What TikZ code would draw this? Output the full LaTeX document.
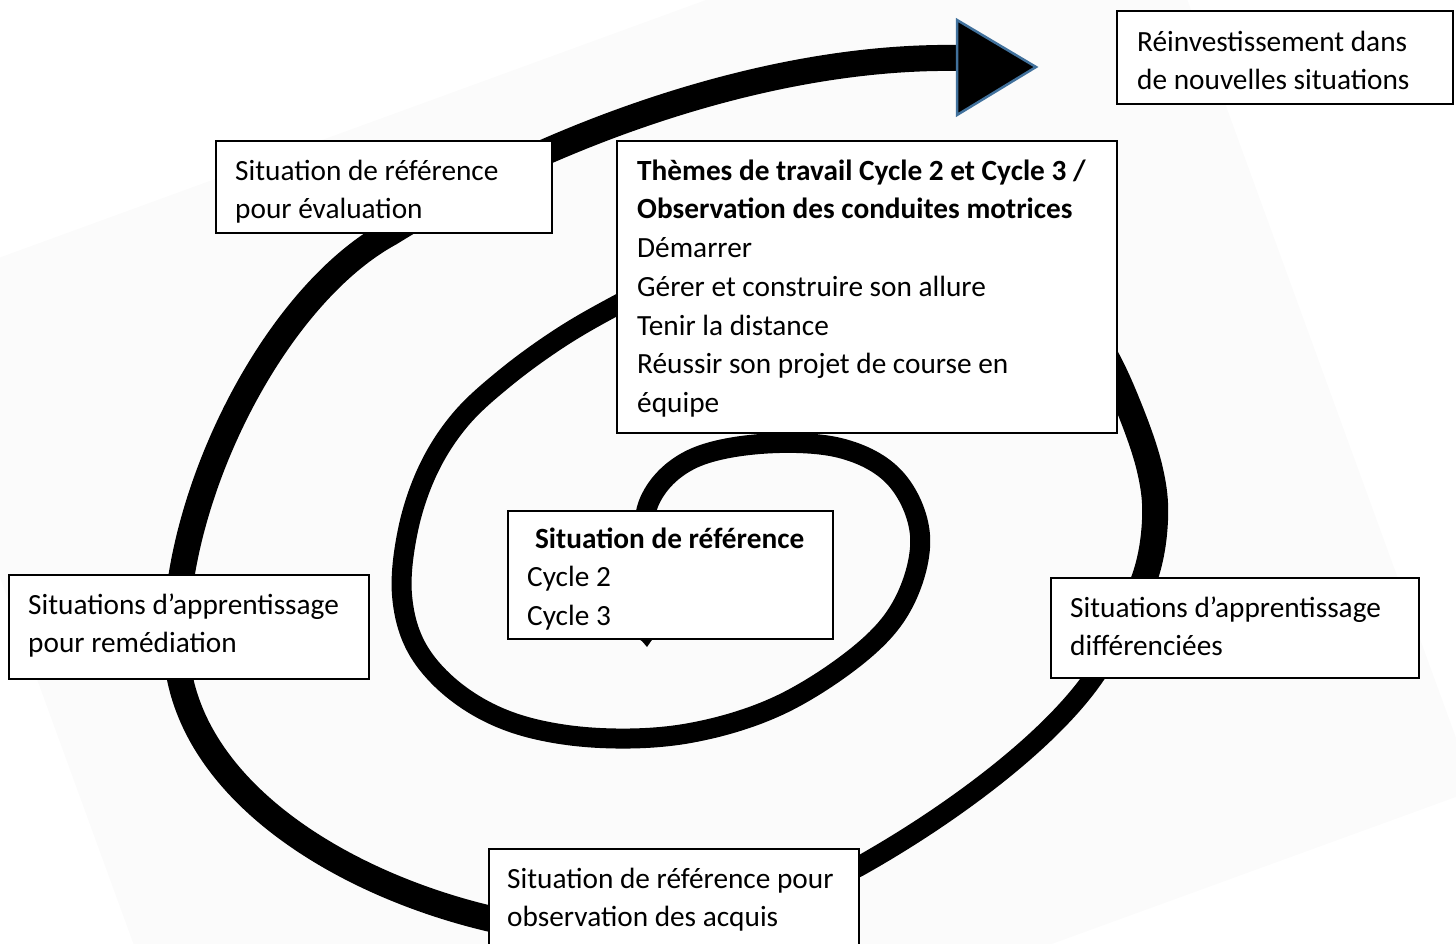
\documentclass[tikz,border=0pt]{standalone}
\usepackage{fontspec}
\setmainfont{Carlito}
\definecolor{arrowblue}{RGB}{65,113,156}
\begin{document}
\begin{tikzpicture}[x=1pt,y=-1pt,
  box/.style={draw=black, line width=2pt, fill=white, anchor=north west,
    inner sep=0pt},
  txt/.style={anchor=north west, inner sep=0pt, align=flush left,
    font=\fontsize{29.3}{38.7}\selectfont},
  wire/.style={draw=black, line width=#1, line cap=round, line join=round},
]
\useasboundingbox (0,0) rectangle (1456,944);

% faint tilted sheet behind the spiral
\begin{scope}
  \clip (0,0) rectangle (1456,944);
  \fill[black!1.5] (-103,295) -- (1131,-155) -- (1475,790) -- (241,1239) -- cycle;
\end{scope}

% the spiral, from its centre outwards
\draw[wire=20] plot[smooth, tension=0.6] coordinates {
  (646,632) (643,560) (650,500) (690,460) (760,444) (840,448) (895,478)
  (920,535) (905,600) (862,652) (780,705) (690,733) (600,738) (520,725)
  (460,695) (418,650) (402,595) (408,530) (428,470) (460,420) (505,378)
  (560,338) (617,305) (690,268)};
\fill (636,634) -- (656,634) -- (647,647) -- cycle;
\draw[wire=26] plot[smooth, tension=0.6] coordinates {
  (690,268) (800,240) (950,240) (1060,290) (1102,350) (1130,410)
  (1150,470) (1155,520) (1145,577) (1115,640)};
\draw[wire=20] (1112,645) .. controls (1080,720) and (960,810) .. (858,867)
  -- (780,905);
\draw[wire=26] (560,935) -- (487,918)
  .. controls (330,880) and (176,780) .. (176,640)
  .. controls (176,490) and (276,295) .. (390,233)
  .. controls (540,140) and (760,55) .. (958,58);

% arrowhead at the outer end
\draw[fill=black, draw=arrowblue, line width=2.5pt, line join=miter]
  (957,20) -- (1036,67) -- (957,115) -- cycle;

% label frames
\node[box, minimum width=336pt, minimum height=93pt]  (reinv)  at (1116,10) {};
\node[box, minimum width=336pt, minimum height=92pt]  (evalu)  at (215,140) {};
\node[box, minimum width=500pt, minimum height=292pt] (themes) at (616,140) {};
\node[box, minimum width=325pt, minimum height=128pt] (refsit) at (507,510) {};
\node[box, minimum width=360pt, minimum height=104pt] (remed)  at (8,574) {};
\node[box, minimum width=368pt, minimum height=100pt] (diff)   at (1050,577) {};
\node[box, minimum width=370pt, minimum height=100pt] (acquis) at (488,848) {};

% label texts
\node[txt, text width=300pt] (reinv-t)
  at ([xshift=21pt, yshift=-14pt]reinv.north west)
  {\spaceskip=0pt\strut Réinvestissement dans\\de nouvelles situations};
\node[txt, text width=300pt] (evalu-t)
  at ([xshift=20pt, yshift=-13pt]evalu.north west)
  {\spaceskip=0pt\strut Situation de référence\\pour évaluation};
\node[txt, text width=470pt] (themes-t)
  at ([xshift=21pt, yshift=-13pt]themes.north west)
  {\spaceskip=0pt\strut\textbf{Thèmes de travail Cycle 2 et Cycle 3 /}\\
   \textbf{Observation des conduites motrices}\\
   Démarrer\\
   Gérer et construire son allure\\
   Tenir la distance\\
   Réussir son projet de course en\\
   équipe};
\node[txt, text width=285pt] (refsit-t)
  at ([xshift=20pt, yshift=-11pt]refsit.north west)
  {\spaceskip=0pt\strut\makebox[285pt]{\bfseries Situation de référence}\\
   Cycle 2\\Cycle 3};
\node[txt, text width=330pt] (remed-t)
  at ([xshift=20pt, yshift=-13pt]remed.north west)
  {\spaceskip=0pt\strut Situations d’apprentissage\\pour remédiation};
\node[txt, text width=330pt] (diff-t)
  at ([xshift=20pt, yshift=-13pt]diff.north west)
  {\spaceskip=0pt\strut Situations d’apprentissage\\différenciées};
\node[txt, text width=340pt] (acquis-t)
  at ([xshift=19pt, yshift=-13pt]acquis.north west)
  {\spaceskip=0pt\strut Situation de référence pour\\observation des acquis};
\end{tikzpicture}
\end{document}
